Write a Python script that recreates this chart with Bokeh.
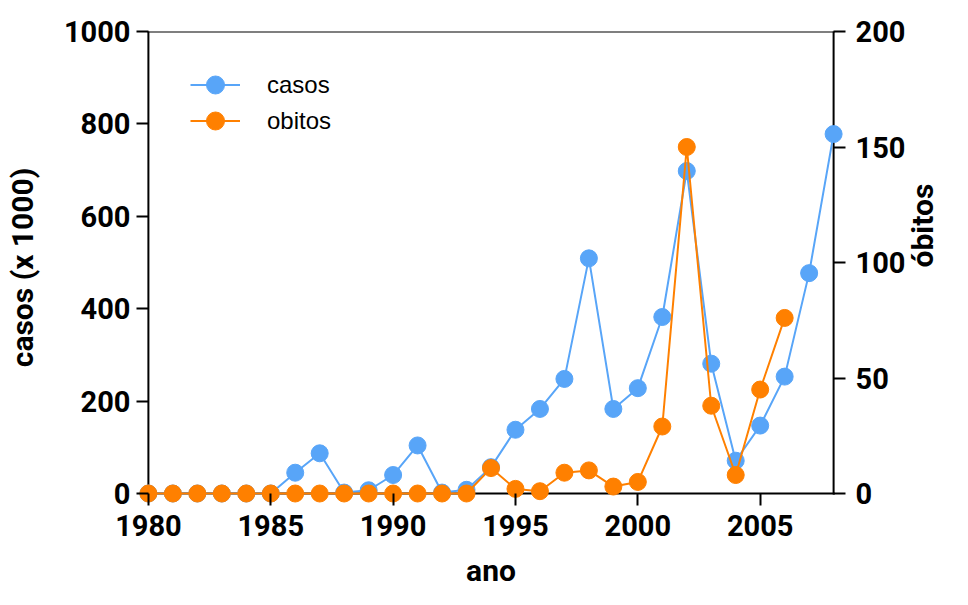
import math
from bokeh.plotting import figure
from bokeh.models import Range1d, LinearAxis, FixedTicker, Legend, LegendItem
from bokeh.embed import file_html
from bokeh.resources import INLINE

# ---- data ----
years = list(range(1980, 2009))
casos = [0, 0, 0, 0, 0, 0, 45, 87, 2, 7, 40, 104, 2, 8, 57, 138, 183, 248,
         509, 183, 228, 382, 698, 281, 71, 147, 253, 477, 778]
obitos_years = list(range(1980, 2007))
obitos = [0, 0, 0, 0, 0, 0, 0, 0, 0, 0, 0, 0, 0, 0, 11, 2, 1, 9, 10, 3, 5,
          29, 150, 38, 8, 45, 76]

x_ticks = [1980, 1985, 1990, 1995, 2000, 2005]
left_ticks = [0, 200, 400, 600, 800, 1000]
right_ticks = [0, 50, 100, 150, 200]

BLUE = "#58A5F8"
ORANGE = "#FF8000"
FONT = "Roboto"

X0, X1 = 1980, 2008
Y0, Y1 = 0, 1000
R0, R1 = 0, 200
PAD = 10
plot_w = 692
plot_h = 462
xpad = PAD * (X1 - X0) / plot_w
ypad = PAD * (Y1 - Y0) / plot_h
rpad = PAD * (R1 - R0) / plot_h

W, H = 960, 597
p = figure(width=W, height=H, output_backend="svg", toolbar_location=None,
           x_range=Range1d(X0 - xpad, X1 + xpad),
           y_range=Range1d(Y0 - ypad, Y1),
           min_border_left=138, min_border_right=W - 850,
           min_border_top=31, min_border_bottom=H - 503)
p.extra_y_ranges = {"ob": Range1d(R0 - rpad, R1)}
p.xgrid.visible = False
p.ygrid.visible = False
p.outline_line_color = None
p.background_fill_color = "white"
p.border_fill_color = "white"


def style(ax, ticks, standoff):
    ax.ticker = FixedTicker(ticks=ticks)
    ax.axis_line_color = None
    ax.major_tick_line_width = 2
    ax.major_tick_line_color = "black"
    ax.major_tick_out = 2
    ax.major_tick_in = PAD
    ax.minor_tick_out = 0
    ax.minor_tick_in = 0
    ax.major_label_text_font = FONT
    ax.major_label_text_font_style = "bold"
    ax.major_label_text_font_size = "29px"
    ax.major_label_text_color = "black"
    ax.major_label_standoff = standoff
    ax.axis_label_text_font = FONT
    ax.axis_label_text_font_style = "bold"
    ax.axis_label_text_font_size = "30px"
    ax.axis_label_text_color = "black"


lax = p.yaxis[0]
style(lax, left_ticks, 6)
lax.axis_label = "casos (x 1000)"
lax.axis_label_standoff = 21

bax = p.xaxis[0]
style(bax, x_ticks, 9)
bax.axis_label = "ano"
bax.axis_label_standoff = 14

rax = LinearAxis(y_range_name="ob")
style(rax, right_ticks, 10)
rax.axis_label = "óbitos"
rax.axis_label_standoff = 14
try:
    rax.axis_label_orientation = math.pi / 2
except Exception:
    pass
p.add_layout(rax, "right")

# ---- frame lines (axis rules at the data limits) ----
p.segment(x0=[X0, X0, X1, X0], y0=[Y0, Y0, Y0, Y1],
          x1=[X0, X1, X1, X1], y1=[Y1, Y0, Y1, Y1],
          line_color="black", line_width=2, line_cap="square")

# ---- series ----
bl = p.line(years, casos, line_color=BLUE, line_width=2)
bs = p.scatter(years, casos, size=17, fill_color=BLUE, line_color=BLUE)
ol = p.line(obitos_years, obitos, line_color=ORANGE, line_width=2, y_range_name="ob")
os_ = p.scatter(obitos_years, obitos, size=17, fill_color=ORANGE, line_color=ORANGE,
                y_range_name="ob")

# ---- legends ----
def make_legend(label, rends, y):
    lg = Legend(items=[LegendItem(label=label, renderers=rends)],
                location=(52, y), glyph_width=50, glyph_height=45,
                label_standoff=27, label_height=45, padding=0, margin=0,
                border_line_color=None, background_fill_alpha=0,
                label_text_font="Liberation Sans", label_text_font_size="24px",
                label_text_color="black")
    p.add_layout(lg, "center")

make_legend("casos", [bl, bs], 396)
make_legend("obitos", [ol, os_], 360)

open("out.html", "w").write(file_html(p, INLINE))
